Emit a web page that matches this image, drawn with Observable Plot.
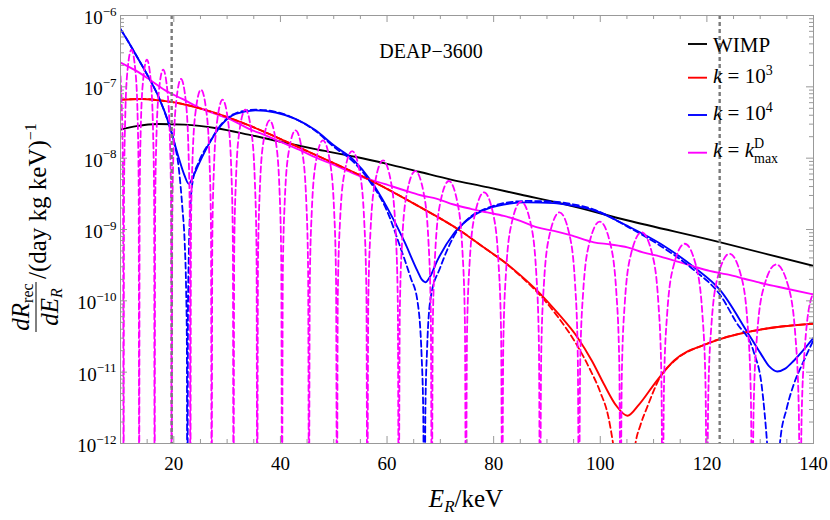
<!DOCTYPE html>
<html><head><meta charset="utf-8">
<script src="https://cdn.jsdelivr.net/npm/d3@7"></script>
<script src="https://cdn.jsdelivr.net/npm/@observablehq/plot@0.6"></script>
<style>body{margin:0;background:#fff} svg{display:block}</style>
</head><body><div id="chart"></div>
<script>
// ---- data (E_R in keV, rate as log10 value) ----
const wimpE   = [10, 13, 17, 22, 28, 34, 40, 47, 54, 60, 66, 72, 79, 85, 93, 105, 122, 140];
const wimpLog = [-7.60, -7.55, -7.52, -7.53, -7.58, -7.67, -7.77, -7.88, -7.98, -8.08, -8.19, -8.30, -8.41, -8.51, -8.64, -8.87, -9.17, -9.51];

const k3E   = [10, 14, 18.4, 21.6, 25.3, 29.1, 34.1, 39.1, 44.1, 50, 56.9, 66.3, 73.8, 78.5, 81.9, 85, 88.2, 92, 95.7, 98.5, 100.7, 103, 105.1, 107.3, 110.1, 113.8, 120.1, 128.8, 134, 140];
const k3Log = [-7.18, -7.17, -7.20, -7.24, -7.31, -7.40, -7.54, -7.70, -7.87, -8.07, -8.31, -8.69, -9.02, -9.27, -9.45, -9.64, -9.86, -10.17, -10.51, -10.85, -11.17, -11.47, -11.61, -11.45, -11.17, -10.84, -10.60, -10.42, -10.36, -10.32];

const k3DashE   = [10, 14, 18.4, 21.6, 25.3, 29.1, 34.1, 39.1, 44.1, 50, 56.9, 66.3, 73.8, 78.5, 81.9, 85, 88.2, 92, 95.7, 98, 100, 101.5, 102.4, 103.5, 104.6, 105.7, 106.6, 107.5, 108.8, 111.3, 113.8, 120.1, 128.8, 134, 140];
const k3DashLog = [-7.18, -7.17, -7.20, -7.24, -7.31, -7.40, -7.54, -7.70, -7.87, -8.07, -8.31, -8.69, -9.02, -9.27, -9.45, -9.65, -9.88, -10.22, -10.63, -10.95, -11.28, -11.62, -12.0, -12.6, -14, -12.6, -12.0, -11.75, -11.49, -11.06, -10.85, -10.60, -10.42, -10.36, -10.32];

const k4E   = [10, 11, 12.8, 15.3, 17.2, 19.1, 20.9, 22.0, 22.8, 23.6, 24.7, 26.6, 29.1, 31.6, 35.3, 39.1, 42.8, 46.6, 50, 53.8, 56.9, 60, 63.2, 65.7, 66.5, 67.2, 68.0, 69.4, 72.5, 75.7, 78.8, 81.9, 86.3, 91.3, 94.4, 98.8, 105.1, 111.3, 117.6, 122.6, 127.6, 130.1, 131.7, 133.2, 134.7, 136.3, 140];
const k4Log = [-6.19, -6.31, -6.54, -6.87, -7.15, -7.52, -7.99, -8.24, -8.36, -8.26, -8.08, -7.80, -7.52, -7.38, -7.33, -7.36, -7.45, -7.61, -7.82, -8.03, -8.31, -8.69, -9.16, -9.58, -9.70, -9.74, -9.67, -9.44, -9.06, -8.83, -8.71, -8.65, -8.62, -8.63, -8.66, -8.73, -8.95, -9.20, -9.53, -9.86, -10.44, -10.74, -10.92, -10.99, -10.95, -10.84, -10.52];

const k4DashE   = [10, 11, 12.8, 15.3, 17.2, 19.1, 20.0, 20.9, 21.6, 22.05, 22.3, 22.45, 22.55, 22.65, 22.8, 23.1, 23.6, 24.7, 26.6, 29.1, 31.6, 35.3, 39.1, 42.8, 46.6, 50, 53.8, 56.9, 60, 62.5, 64.4, 65.7, 66.5, 66.8, 67.0, 67.2, 67.5, 68.2, 70, 72.5, 75.7, 78.8, 81.9, 86.3, 91.3, 94.4, 98.8, 105.1, 111.3, 117.6, 122.6, 125.5, 128.8, 130.3, 131.3, 132.0, 132.5, 133.0, 133.7, 135.0, 136.3, 138, 140];
const k4DashLog = [-6.19, -6.31, -6.54, -6.87, -7.15, -7.53, -7.76, -8.12, -8.69, -9.2, -9.8, -10.6, -14, -10.2, -9.4, -8.69, -8.30, -8.05, -7.79, -7.51, -7.37, -7.32, -7.35, -7.45, -7.62, -7.84, -8.06, -8.34, -8.74, -9.25, -9.67, -10.0, -10.8, -11.6, -14, -11.5, -10.7, -9.95, -9.53, -9.10, -8.82, -8.70, -8.63, -8.60, -8.61, -8.64, -8.72, -8.96, -9.23, -9.57, -9.93, -10.3, -10.72, -11.2, -12.0, -12.8, -14, -12.8, -12.0, -11.5, -11.17, -10.87, -10.55];

const kmaxE   = [10, 12.8, 15.3, 18.4, 21.6, 24.7, 27.8, 31, 34.1, 37.2, 40.3, 43.5, 46.6, 50, 53, 56.3, 59.5, 63.2, 66.3, 69.4, 72.5, 75.7, 78.8, 81.9, 85, 88.2, 91.3, 94.4, 98.8, 102, 105.1, 108, 111.3, 114.5, 117.6, 120.5, 123.8, 127, 130.1, 135, 140];
const kmaxLog = [-6.66, -6.77, -6.89, -7.05, -7.17, -7.29, -7.38, -7.47, -7.59, -7.68, -7.78, -7.88, -7.99, -8.09, -8.19, -8.29, -8.36, -8.45, -8.52, -8.57, -8.65, -8.71, -8.76, -8.81, -8.88, -8.97, -9.02, -9.08, -9.18, -9.21, -9.25, -9.32, -9.38, -9.45, -9.52, -9.58, -9.63, -9.69, -9.75, -9.83, -9.91];

const kmaxDashE = [
  10, 10.2, 10.4, 10.5, 10.58,
  10.66, 10.87, 11.3, 12.05, 12.8, 13.23, 13.42, 13.5,
  13.59, 13.79, 14.23, 14.95, 15.68, 16.11, 16.31, 16.4,
  16.5, 16.72, 17.2, 18.0, 18.8, 19.28, 19.5, 19.6,
  19.71, 19.95, 20.48, 21.35, 22.23, 22.75, 23.0, 23.1,
  23.22, 23.5, 24.1, 25.1, 26.1, 26.7, 26.98, 27.1,
  27.22, 27.51, 28.13, 29.15, 30.18, 30.79, 31.08, 31.2,
  31.33, 31.65, 32.31, 33.43, 34.54, 35.2, 35.52, 35.65,
  35.79, 36.12, 36.81, 37.98, 39.14, 39.84, 40.16, 40.3,
  40.45, 40.81, 41.56, 42.83, 44.09, 44.85, 45.2, 45.35,
  45.51, 45.88, 46.66, 47.98, 49.29, 50.08, 50.44, 50.6,
  50.77, 51.17, 52.03, 53.45, 54.88, 55.73, 56.13, 56.3,
  56.48, 56.89, 57.78, 59.25, 60.73, 61.61, 62.02, 62.2,
  62.39, 62.82, 63.75, 65.3, 66.85, 67.78, 68.21, 68.4,
  68.59, 69.04, 70.0, 71.6, 73.2, 74.16, 74.61, 74.8,
  75.0, 75.48, 76.5, 78.2, 79.9, 80.92, 81.4, 81.6,
  81.81, 82.31, 83.38, 85.15, 86.93, 87.99, 88.49, 88.7,
  88.92, 89.43, 90.53, 92.35, 94.18, 95.27, 95.78, 96.0,
  96.23, 96.78, 97.95, 99.9, 101.85, 103.02, 103.57, 103.8,
  104.04, 104.59, 105.78, 107.75, 109.73, 110.91, 111.46, 111.7,
  111.95, 112.53, 113.78, 115.85, 117.93, 119.17, 119.75, 120.0,
  120.26, 120.85, 122.13, 124.25, 126.38, 127.65, 128.25, 128.5,
  128.77, 129.4, 130.75, 133.0, 135.25, 136.6, 137.23, 137.5,
  137.77, 138.4, 139.75, 140
];
const kmaxDashLog = [
  -6.85, -7.2, -7.9, -8.9, -13,
  -8.48, -7.48, -6.78, -6.48, -6.78, -7.48, -8.48, -13,
  -8.62, -7.62, -6.92, -6.62, -6.92, -7.62, -8.62, -13,
  -8.76, -7.76, -7.06, -6.76, -7.06, -7.76, -8.76, -13,
  -8.89, -7.89, -7.19, -6.89, -7.19, -7.89, -8.89, -13,
  -9.04, -8.04, -7.34, -7.04, -7.34, -8.04, -9.04, -13,
  -9.18, -8.18, -7.48, -7.18, -7.48, -8.18, -9.18, -13,
  -9.32, -8.32, -7.62, -7.32, -7.62, -8.32, -9.32, -13,
  -9.47, -8.47, -7.77, -7.47, -7.77, -8.47, -9.47, -13,
  -9.61, -8.61, -7.91, -7.61, -7.91, -8.61, -9.61, -13,
  -9.75, -8.75, -8.05, -7.75, -8.05, -8.75, -9.75, -13,
  -9.9, -8.9, -8.2, -7.9, -8.2, -8.9, -9.9, -13,
  -10.03, -9.03, -8.33, -8.03, -8.33, -9.03, -10.03, -13,
  -10.18, -9.18, -8.48, -8.18, -8.48, -9.18, -10.18, -13,
  -10.32, -9.32, -8.62, -8.32, -8.62, -9.32, -10.32, -13,
  -10.48, -9.48, -8.78, -8.48, -8.78, -9.48, -10.48, -13,
  -10.61, -9.61, -8.91, -8.61, -8.91, -9.61, -10.61, -13,
  -10.76, -9.76, -9.06, -8.76, -9.06, -9.76, -10.76, -13,
  -10.89, -9.89, -9.19, -8.89, -9.19, -9.89, -10.89, -13,
  -11.04, -10.04, -9.34, -9.04, -9.34, -10.04, -11.04, -13,
  -11.2, -10.2, -9.5, -9.2, -9.5, -10.2, -11.2, -13,
  -11.34, -10.34, -9.64, -9.34, -9.64, -10.34, -11.34, -13,
  -11.49, -10.49, -9.79, -9.49, -9.79, -10.49, -11.49, -13,
  -11.63, -10.63, -9.93, -9.9
];

const markerE = [19.6, 122.4];
const xMajor = [20, 40, 60, 80, 100, 120, 140];
const xMinor = [15, 25, 30, 35, 45, 50, 55, 65, 70, 75, 85, 90, 95, 105, 110, 115, 125, 130, 135];
const yMajor = [1e-12, 1e-11, 1e-10, 1e-9, 1e-8, 1e-7, 1e-6];
const yMinorMult = [2, 3, 4, 5, 6, 7, 8, 9];
const yMinor = yMajor.slice(0, -1).flatMap(d => yMinorMult.map(m => m * d));

const legendItems = [
  {key: "wimp", color: "black"},
  {key: "k3", color: "#ff0000"},
  {key: "k4", color: "#0000ff"},
  {key: "kmax", color: "#ff00ff"}
];

// ---- build ----
const rows = (E, L) => {
  if (E.length !== L.length) console.error("length mismatch", E.length, L.length);
  return E.map((e, i) => ({E: e, v: Math.pow(10, L[i])}));
};
const FONT = "'Liberation Serif', 'DejaVu Serif', serif";
const W = 830, H = 520, ML = 120, MR = 17, MT = 15, MB = 77;
const innerW = W - ML - MR, innerH = H - MT - MB;
const RED = "#ff0000", BLUE = "#0000ff", MAG = "#ff00ff";
const solid = (E, L, c) => Plot.line(rows(E, L), {x: "E", y: "v", stroke: c, strokeWidth: 1.9, curve: "monotone-x", clip: true});
const dashed = (E, L, c) => Plot.line(rows(E, L), {x: "E", y: "v", stroke: c, strokeWidth: 1.8, strokeDasharray: "6,3.5", curve: "monotone-x", clip: true});
const tc = "#999";

const chart = Plot.plot({
  width: W, height: H, marginLeft: ML, marginRight: MR, marginTop: MT, marginBottom: MB,
  style: {fontFamily: FONT, fontSize: "19px", background: "white", color: "black"},
  x: {domain: [10, 140]},
  y: {type: "log", domain: [1e-12, 1e-6]},
  marks: [
    solid(wimpE, wimpLog, "black"),
    solid(k3E, k3Log, RED),
    solid(k4E, k4Log, BLUE),
    solid(kmaxE, kmaxLog, MAG),
    dashed(k3DashE, k3DashLog, RED),
    dashed(k4DashE, k4DashLog, BLUE),
    dashed(kmaxDashE, kmaxDashLog, MAG),
    Plot.ruleX(markerE, {x: d => d, stroke: "#7a7a7a", strokeWidth: 2.4, strokeDasharray: "4,3"}),
    Plot.frame({stroke: tc, strokeWidth: 1}),
    Plot.tickX(xMajor, {x: d => d, insetTop: innerH - 7, stroke: tc}),
    Plot.tickX(xMajor, {x: d => d, insetBottom: innerH - 7, stroke: tc}),
    Plot.tickX(xMinor, {x: d => d, insetTop: innerH - 4, stroke: tc}),
    Plot.tickX(xMinor, {x: d => d, insetBottom: innerH - 4, stroke: tc}),
    Plot.tickY(yMajor, {y: d => d, insetRight: innerW - 7, stroke: tc}),
    Plot.tickY(yMajor, {y: d => d, insetLeft: innerW - 7, stroke: tc}),
    Plot.tickY(yMinor, {y: d => d, insetRight: innerW - 4, stroke: tc}),
    Plot.tickY(yMinor, {y: d => d, insetLeft: innerW - 4, stroke: tc}),
    Plot.axisX(xMajor, {tickSize: 0, tickPadding: 13, label: null}),
    Plot.axisY(yMajor, {tickSize: 0, tickPadding: 4, label: null, dy: 2.5,
      tickFormat: d => "10^" + Math.round(Math.log10(d))})
  ]
});
document.getElementById("chart").appendChild(chart);

const svg = d3.select(chart);
// superscript tick labels
svg.selectAll('g[aria-label="y-axis tick label"] text').each(function() {
  const t = this.textContent;
  const exp = t.split("^")[1] || "";
  const s = d3.select(this);
  s.text(null);
  s.append("tspan").text("10");
  s.append("tspan").attr("dy", -8.4).attr("font-size", 13).text(exp.replace("-", "\u2212"));
});

const ann = svg.append("g").attr("font-family", FONT).attr("fill", "black")
  .attr("text-anchor", "start").style("text-anchor", "start");

// title
ann.append("text").attr("x", 431).attr("y", 58.3).style("text-anchor", "middle")
  .attr("font-size", 20).text("DEAP\u22123600");

// x label
const xl = ann.append("text").attr("x", 466).attr("y", 507).style("text-anchor", "middle").attr("font-size", 25);
xl.append("tspan").attr("font-style", "italic").text("E");
xl.append("tspan").attr("font-style", "italic").attr("font-size", 17).attr("dy", 5).text("R");
xl.append("tspan").attr("dy", -5).text("/keV");

// y label (rotated)
const yl = ann.append("g").attr("transform", "translate(36,332) rotate(-90)").attr("font-size", 25);
yl.append("line").attr("x1", 0).attr("x2", 50).attr("y1", 0).attr("y2", 0).attr("stroke", "black").attr("stroke-width", 1);
const num = yl.append("text").attr("x", 25).attr("y", -7).style("text-anchor", "middle");
num.append("tspan").attr("font-style", "italic").text("dR");
num.append("tspan").attr("font-size", 16).attr("dy", 4).text("rec");
const den = yl.append("text").attr("x", 25).attr("y", 22).style("text-anchor", "middle");
den.append("tspan").attr("font-style", "italic").text("dE");
den.append("tspan").attr("font-style", "italic").attr("font-size", 16).attr("dy", 4).text("R");
const rest = yl.append("text").attr("x", 53).attr("y", 10).style("text-anchor", "start");
rest.append("tspan").text("/(day kg keV)");
rest.append("tspan").attr("font-size", 16).attr("dy", -10).text("\u22121");

// legend
const lg = ann.append("g").attr("font-size", 21);
const lineY = [44, 77.7, 115, 152.7];
const baseY = [51.5, 82.5, 120, 157];
legendItems.forEach((it, i) => {
  lg.append("line").attr("x1", 688).attr("x2", 707).attr("y1", lineY[i]).attr("y2", lineY[i])
    .attr("stroke", it.color).attr("stroke-width", 1.9);
});
lg.append("text").attr("x", 713).attr("y", baseY[0]).style("text-anchor", "start").text("WIMP");
[["3", 1], ["4", 2]].forEach(([e, i]) => {
  const t = lg.append("text").attr("x", 713).attr("y", baseY[i]).style("text-anchor", "start");
  t.append("tspan").attr("font-style", "italic").text("k");
  t.append("tspan").text(" = 10");
  t.append("tspan").attr("font-size", 14).attr("dy", -8).text(e);
});
const tk = lg.append("text").attr("x", 713).attr("y", baseY[3]).style("text-anchor", "start");
tk.append("tspan").attr("font-style", "italic").text("k");
tk.append("tspan").text(" = ");
tk.append("tspan").attr("font-style", "italic").text("k");
const sup = tk.append("tspan").attr("font-size", 14).attr("dy", -9).text("D");
const supW = sup.node().getComputedTextLength();
tk.append("tspan").attr("font-size", 14).attr("dx", -supW).attr("dy", 15).text("max");
</script></body></html>
